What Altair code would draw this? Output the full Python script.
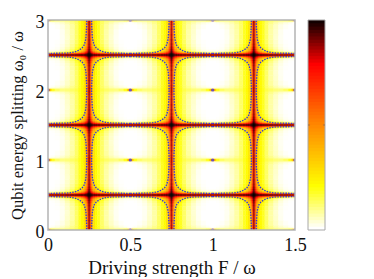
import altair as alt
import pandas as pd

# distance from a vertical / horizontal resonance line, in data units
u_edges = [0, .006, .012, .018, .025, .036, .05, .067, .09, .12, .15, .18, .21, .23, .24, .25]
w_edges = [0, .015, .03, .045, .06, .085, .115, .16, .22, .29, .37, .44, .47, .485, .5]
tile = [
 [1.0,.98,.96,.94,.93,.92,.91,.90,.89,.88,.87,.87,.86,.86,.86],
 [.98,.95,.90,.85,.80,.76,.72,.68,.64,.60,.56,.52,.50,.50,.50],
 [.95,.88,.80,.72,.64,.54,.46,.38,.30,.24,.19,.14,.11,.10,.10],
 [.93,.84,.72,.62,.52,.43,.34,.26,.19,.13,.08,.05,.03,.03,.03],
 [.92,.80,.64,.52,.43,.34,.26,.19,.13,.08,.04,.015,.008,.006,.006],
 [.90,.75,.58,.45,.36,.28,.22,.16,.10,.06,.025,.008,.002,0,0],
 [.88,.70,.52,.40,.31,.24,.19,.14,.085,.045,.018,.004,0,0,0],
 [.87,.66,.48,.36,.28,.22,.18,.125,.075,.04,.012,.002,0,0,0],
 [.86,.63,.45,.34,.27,.21,.175,.12,.07,.035,.01,0,0,0,0],
 [.85,.62,.44,.33,.26,.21,.175,.12,.07,.04,.012,0,0,0,0],
 [.85,.61,.43,.33,.26,.21,.175,.12,.075,.045,.02,.006,0,0,0],
 [.85,.61,.43,.33,.26,.21,.175,.125,.09,.06,.035,.02,.008,.003,0],
 [.85,.61,.43,.33,.26,.21,.18,.13,.105,.085,.07,.06,.055,.04,.02],
 [.85,.61,.43,.33,.26,.21,.18,.14,.12,.105,.10,.12,.17,.30,.50],
]
res_x = [.25, .75, 1.25]
res_y = [.5, 1.5, 2.5]
node_x = [0, .5, 1, 1.5]
node_y = [0, 1, 2, 3]
curve_u = [.25, .14, .103, .079, .061, .043, .030, .024, .020, .0176, .0155, .0146]
curve_w = [.024, .026, .036, .05, .071, .10, .143, .193, .239, .314, .40, .5]
stops = [0, .2, .5, .78, 1]
ramp = ["#ffffff", "#ffff00", "#ff8400", "#ff0000", "#000000"]
bar_levels = [i / 64 for i in range(64)]
bar_tick = [.5]

cells = []
for rx in res_x:
    for sx in (-1, 1):
        for ry in res_y:
            for sy in (-1, 1):
                for j, row in enumerate(tile):
                    for i, v in enumerate(row):
                        a, b = rx + sx * u_edges[i], rx + sx * u_edges[i + 1]
                        c, d = ry + sy * w_edges[j], ry + sy * w_edges[j + 1]
                        if min(a, b) >= 1.5 or max(c, d) <= 0 or min(c, d) >= 3 or max(a, b) <= 0:
                            continue
                        cells.append((a, b, c, d, v))
cells = pd.DataFrame(cells, columns=["x", "x2", "y", "y2", "v"])

lines = []
k = 0
for rx in res_x:
    for sx in (-1, 1):
        for ry in res_y:
            for sy in (-1, 1):
                k += 1
                for o, (u, w) in enumerate(zip(curve_u, curve_w)):
                    lines.append((rx + sx * u, ry + sy * w, k, o))
lines = pd.DataFrame(lines, columns=["x", "y", "k", "o"])
nodes = pd.DataFrame([(x, y) for x in node_x for y in node_y], columns=["x", "y"])

color = alt.Scale(domain=stops, range=ramp, clamp=True, interpolate="rgb")
font = "Liberation Serif"
xs = alt.Scale(domain=[0, 1.5], nice=False, zero=False)
ys = alt.Scale(domain=[0, 3], nice=False, zero=False)

X = alt.X("x:Q", scale=xs, title="Driving strength F / ω",
          axis=alt.Axis(values=[0, .5, 1, 1.5], domain=False, ticks=False, grid=False, format="~g",
                        labelPadding=6, titlePadding=4, labelFlush=False, titleFontSize=19))
Y = alt.Y("y:Q", scale=ys, title="Qubit energy splitting ω₀ / ω",
          axis=alt.Axis(values=[0, 1, 2, 3], domain=False, ticks=False, grid=False, format="d",
                        labelPadding=4, titlePadding=10, labelFlush=False, titleFontSize=16.5, labelOffset=2))

heat = alt.Chart(cells).mark_rect(strokeWidth=.4, clip=True).encode(
    x=X, x2="x2:Q", y=Y, y2="y2:Q",
    color=alt.Color("v:Q", scale=color, legend=None),
    stroke=alt.Stroke("v:Q", scale=color, legend=None),
)
contour = alt.Chart(lines).mark_line(color="#3030e8", strokeWidth=1.3, strokeDash=[1.5, 1.2], clip=True).encode(
    x=alt.X("x:Q", scale=xs), y=alt.Y("y:Q", scale=ys), detail="k:N", order="o:Q")
dots = alt.Chart(nodes).mark_point(filled=True, color="#4848e0", size=10, opacity=.8, clip=True).encode(
    x=alt.X("x:Q", scale=xs), y=alt.Y("y:Q", scale=ys))
frame = alt.Chart(pd.DataFrame({"x": [0], "x2": [1.5], "y": [0], "y2": [3]})).mark_rect(
    fillOpacity=0, stroke="#b4b4b4", strokeWidth=1.5).encode(
    x=alt.X("x:Q", scale=xs), x2="x2:Q", y=alt.Y("y:Q", scale=ys), y2="y2:Q")
main = alt.layer(heat, contour, dots, frame).resolve_scale(color="independent", stroke="independent").properties(width=247, height=210)

bar_df = pd.DataFrame({"a": bar_levels, "b": [min(1, v + 2 / 64) for v in bar_levels], "x": [0] * 64, "x2": [1] * 64})
bxs = alt.Scale(domain=[0, 1])
bys = alt.Scale(domain=[0, 1], nice=False)
bar = alt.Chart(bar_df).mark_rect().encode(
    x=alt.X("x:Q", scale=bxs, axis=None), x2="x2:Q",
    y=alt.Y("a:Q", scale=bys, title=None,
            axis=alt.Axis(orient="right", values=[0, .5, 1], domain=False, ticks=False, grid=False,
                          labelExpr="datum.value==0.5?'.5':datum.value", labelPadding=5, labelFlush=False)),
    y2="b:Q",
    color=alt.Color("a:Q", scale=color, legend=None),
)
bframe = alt.Chart(pd.DataFrame({"x": [0], "x2": [1], "a": [0], "b": [1]})).mark_rect(
    fillOpacity=0, stroke="#a8a8a8", strokeWidth=1).encode(
    x=alt.X("x:Q", scale=bxs, axis=None), x2="x2:Q", y=alt.Y("a:Q", scale=bys, axis=None), y2="b:Q")
tick_df = pd.DataFrame({"a": bar_tick * 2, "x": [0, .88], "x2": [.12, 1]})
bticks = alt.Chart(tick_df).mark_rule(color="#a87040", strokeWidth=1).encode(
    x=alt.X("x:Q", scale=bxs, axis=None), x2="x2:Q", y=alt.Y("a:Q", scale=bys, axis=None))
cbar = alt.layer(bar, bframe, bticks).properties(width=17, height=210)

chart = alt.hconcat(main, cbar, spacing=0).resolve_scale(color="independent", stroke="independent").properties(
    padding={"left": 1, "top": 5, "right": 0, "bottom": 0}
).configure_view(stroke=None).configure_axis(
    labelFont=font, titleFont=font, labelFontSize=18, titleFontSize=16,
    labelColor="#111", titleColor="#111", titleFontWeight="normal")
chart.save("out.html", embed_options={"renderer": "svg", "actions": False})
